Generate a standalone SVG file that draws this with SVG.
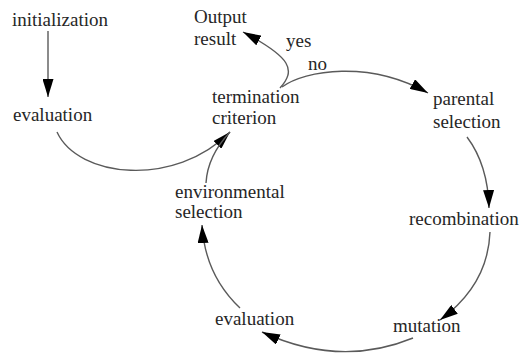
<svg xmlns="http://www.w3.org/2000/svg" width="520" height="354" viewBox="0 0 520 354">
<style>
text{font-family:"Liberation Serif","Times New Roman",serif;font-size:19px;fill:#262626}
.c{fill:none;stroke:#5a5a5a;stroke-width:1.4}
</style>
<defs>
<marker id="ah" markerUnits="userSpaceOnUse" markerWidth="19" markerHeight="11" refX="18" refY="5.5" orient="auto">
<path d="M0,0 L18,5.5 L0,11 z" fill="#000"/>
</marker>
</defs>
<rect width="520" height="354" fill="#fff"/>
<g id="connectors">
<path class="c" d="M48,31 L48,97" marker-end="url(#ah)"/>
<path class="c" d="M57,132 C78,178 175,188 230,132" marker-end="url(#ah)"/>
<path class="c" d="M206,183 C207,165 215,148 230,132"/>
<path class="c" d="M280,88 C296,70 292,58 243,32" marker-end="url(#ah)"/>
<path class="c" d="M282,87 C305,70 370,60 428,93" marker-end="url(#ah)"/>
<path class="c" d="M467,137 Q488,165 489,208" marker-end="url(#ah)"/>
<path class="c" d="M490,232 Q488,285 440,320" marker-end="url(#ah)"/>
<path class="c" d="M413,338 Q340,368 262,332" marker-end="url(#ah)"/>
<path class="c" d="M240,308 Q205,275 202,225" marker-end="url(#ah)"/>
</g>
<g id="initialization"><text x="12" y="26">initialization</text></g>
<g id="evaluation1"><text x="13" y="121">evaluation</text></g>
<g id="output"><text x="194" y="23">Output</text><text x="194" y="45">result</text></g>
<g id="label-yes"><text x="286" y="47">yes</text></g>
<g id="label-no"><text x="308" y="70">no</text></g>
<g id="termination"><text x="212" y="103">termination</text><text x="212" y="124">criterion</text></g>
<g id="parental"><text x="433" y="105">parental</text><text x="433" y="128">selection</text></g>
<g id="recombination"><text x="409" y="225" font-size="17.5">recombination</text></g>
<g id="mutation"><text x="393" y="332">mutation</text></g>
<g id="evaluation2"><text x="215" y="325">evaluation</text></g>
<g id="environmental"><text x="175" y="198">environmental</text><text x="175" y="218">selection</text></g>
</svg>
